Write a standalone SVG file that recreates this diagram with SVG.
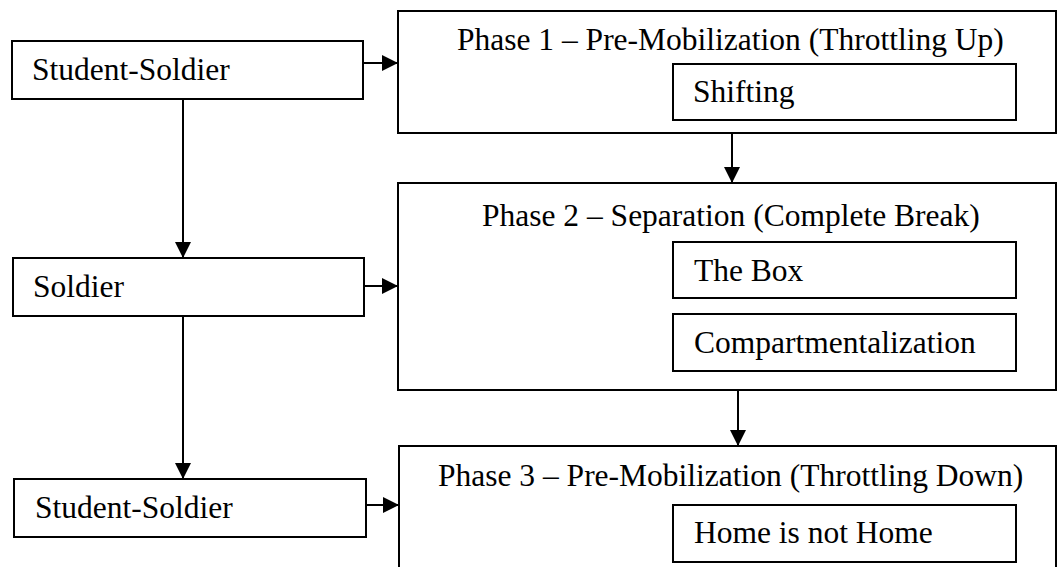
<svg xmlns="http://www.w3.org/2000/svg" width="1059" height="567" viewBox="0 0 1059 567">
<style>
.box{fill:#fff;stroke:#000;stroke-width:2}
.t{font-family:"Liberation Serif","Times New Roman",serif;font-size:31.5px;fill:#000}
.c{fill:none;stroke:#000;stroke-width:2}
</style>
<defs>
<marker id="ah" viewBox="0 0 16 16" refX="16" refY="8" markerWidth="16" markerHeight="16" markerUnits="userSpaceOnUse" orient="auto">
<path d="M0,0 L16,8 L0,16 z" fill="#000"/>
</marker>
</defs>
<rect width="1059" height="567" fill="#fff"/>
<g id="s1"><rect class="box" x="12" y="41" width="351" height="58"/><text class="t" x="32" y="80">Student-Soldier</text></g>
<g id="s2"><rect class="box" x="13" y="258" width="351" height="58"/><text class="t" x="33" y="297">Soldier</text></g>
<g id="s3"><rect class="box" x="14" y="479" width="352" height="58"/><text class="t" x="35" y="518">Student-Soldier</text></g>
<g id="p1"><rect class="box" x="398" y="11" width="658" height="122"/><text class="t" x="457" y="50">Phase 1 – Pre-Mobilization (Throttling Up)</text></g>
<g id="shifting"><rect class="box" x="673" y="64" width="343" height="56"/><text class="t" x="693" y="102">Shifting</text></g>
<g id="p2"><rect class="box" x="398" y="183" width="658" height="207"/><text class="t" x="482" y="226">Phase 2 – Separation (Complete Break)</text></g>
<g id="box"><rect class="box" x="673" y="242" width="343" height="56"/><text class="t" x="694" y="281">The Box</text></g>
<g id="comp"><rect class="box" x="673" y="314" width="343" height="57"/><text class="t" x="694" y="353">Compartmentalization</text></g>
<g id="p3"><rect class="box" x="399" y="446" width="657" height="140"/><text class="t" x="438" y="486">Phase 3 – Pre-Mobilization (Throttling Down)</text></g>
<g id="home"><rect class="box" x="673" y="505" width="343" height="57"/><text class="t" x="694" y="543">Home is not Home</text></g>
<g id="connectors">
<line class="c" x1="183" y1="99" x2="183" y2="258" marker-end="url(#ah)"/>
<line class="c" x1="183" y1="316" x2="183" y2="479" marker-end="url(#ah)"/>
<line class="c" x1="363" y1="63" x2="398" y2="63" marker-end="url(#ah)"/>
<line class="c" x1="364" y1="286" x2="398" y2="286" marker-end="url(#ah)"/>
<line class="c" x1="366" y1="505" x2="399" y2="505" marker-end="url(#ah)"/>
<line class="c" x1="732" y1="133" x2="732" y2="183" marker-end="url(#ah)"/>
<line class="c" x1="738" y1="390" x2="738" y2="446" marker-end="url(#ah)"/>
</g>
</svg>
